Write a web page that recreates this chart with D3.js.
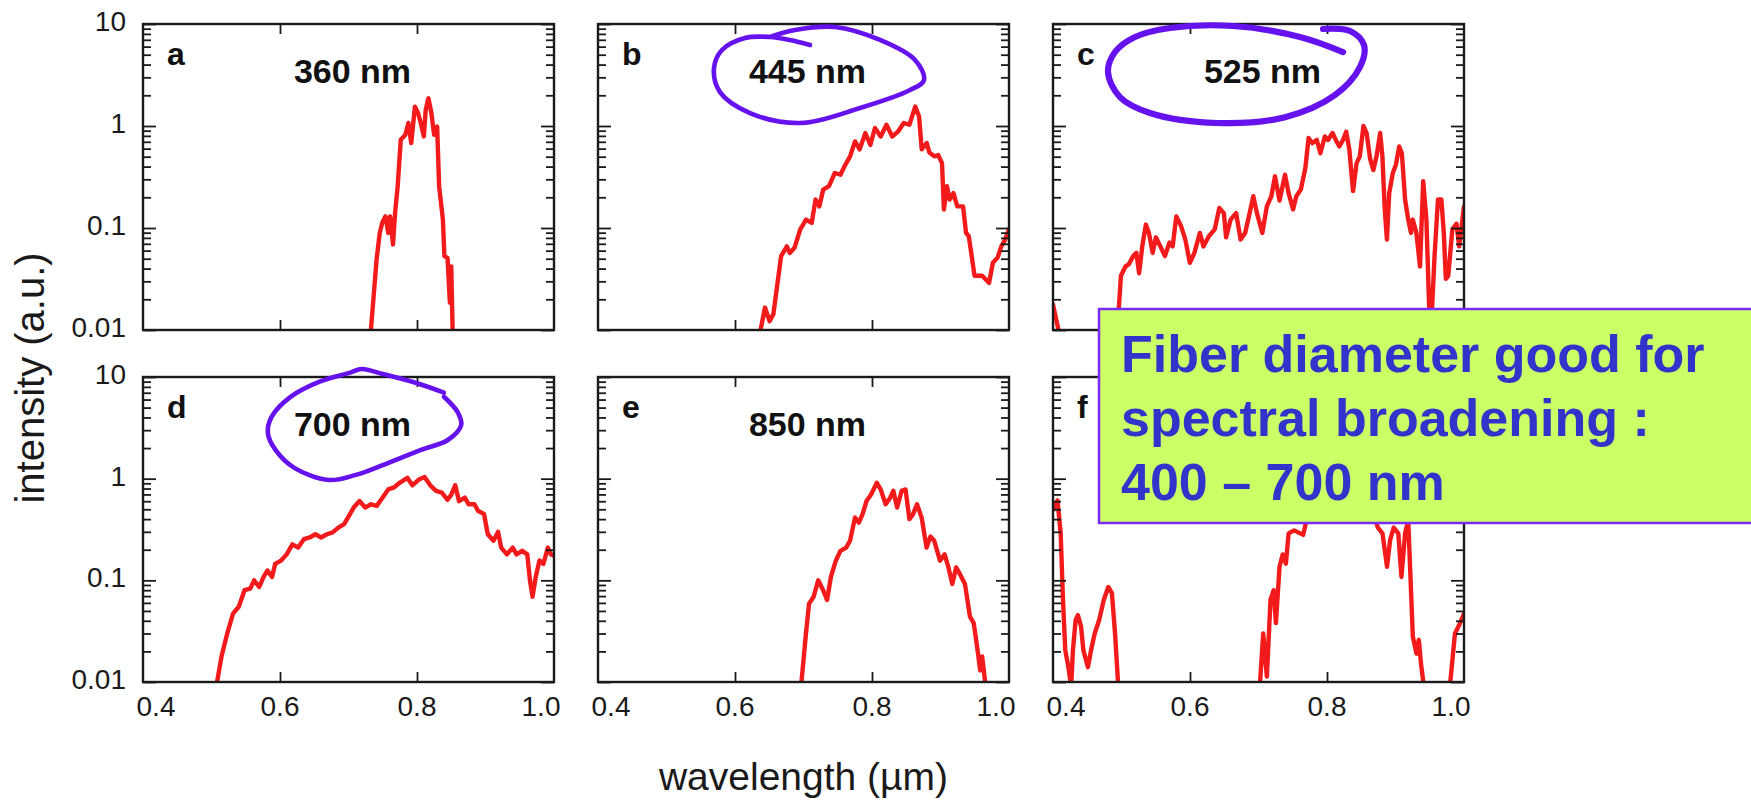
<!DOCTYPE html>
<html><head><meta charset="utf-8">
<script src="https://cdn.jsdelivr.net/npm/d3@7"></script>
<style>html,body{margin:0;padding:0;background:#fff;} svg{display:block;}</style>
</head><body>
<svg id="chart" width="1751" height="800"></svg>
<script>
// ---------- data ----------
const panelLetters = ["a","b","c","d","e","f"];
const pumpLabels = ["360 nm","445 nm","525 nm","700 nm","850 nm",""];
const xTickValues = [0.4, 0.6, 0.8, 1.0];
const xTickLabels = ["0.4","0.6","0.8","1.0"];
const yTickValues = [10, 1, 0.1, 0.01];
const yTickLabels = ["10","1","0.1","0.01"];
const xTitle = "wavelength (µm)";
const yTitle = "intensity (a.u.)";
const noteLines = ["Fiber diameter good for","spectral broadening :","400 – 700 nm"];

// [wavelength (µm), intensity (a.u.)]
const spectrumA = [[0.731,0.007],[0.7327,0.01],[0.741,0.049],[0.7456,0.0895],[0.7495,0.114],[0.754,0.130],[0.758,0.0895],[0.7607,0.130],[0.765,0.069],[0.768,0.141],[0.7718,0.257],[0.7763,0.733],[0.783,0.82],[0.7875,1.07],[0.7916,0.68],[0.797,1.55],[0.8015,1.34],[0.8055,1.07],[0.81,0.79],[0.8127,1.44],[0.8167,1.87],[0.821,1.34],[0.825,0.82],[0.8294,0.99],[0.8323,0.257],[0.8378,0.121],[0.84,0.053],[0.8446,0.051],[0.848,0.0185],[0.85,0.042],[0.852,0.01],[0.853,0.007]];
const spectrumB = [[0.634,0.007],[0.6365,0.0094],[0.6438,0.0166],[0.6505,0.0122],[0.656,0.0143],[0.6673,0.053],[0.6757,0.066],[0.680,0.057],[0.6869,0.064],[0.6953,0.097],[0.7037,0.121],[0.712,0.112],[0.7176,0.19],[0.7232,0.163],[0.7288,0.238],[0.7372,0.257],[0.7456,0.346],[0.754,0.333],[0.7596,0.40],[0.768,0.504],[0.7752,0.706],[0.782,0.59],[0.7903,0.853],[0.7976,0.653],[0.8043,0.955],[0.8127,0.79],[0.8211,1.03],[0.8295,0.79],[0.8379,0.88],[0.8463,1.07],[0.8547,1.03],[0.8631,1.55],[0.8687,1.24],[0.8726,0.59],[0.8799,0.68],[0.8837,0.55],[0.891,0.504],[0.8966,0.52],[0.9022,0.433],[0.905,0.152],[0.9094,0.257],[0.9133,0.19],[0.9189,0.22],[0.9245,0.163],[0.9329,0.163],[0.9373,0.0895],[0.9413,0.083],[0.9497,0.034],[0.9608,0.034],[0.9709,0.029],[0.9765,0.0456],[0.9832,0.051],[0.9888,0.066],[0.9944,0.077],[1.0,0.097]];
const spectrumC = [[0.4,0.0178],[0.408,0.01],[0.412,0.005],[0.49,0.005],[0.494,0.01],[0.4992,0.034],[0.5058,0.042],[0.5105,0.044],[0.5171,0.053],[0.5217,0.057],[0.5257,0.036],[0.5303,0.066],[0.5356,0.108],[0.540,0.0895],[0.5455,0.057],[0.5502,0.081],[0.5568,0.066],[0.5634,0.053],[0.57,0.072],[0.5747,0.066],[0.58,0.130],[0.5866,0.106],[0.5932,0.077],[0.5998,0.0456],[0.6064,0.057],[0.6144,0.0895],[0.6196,0.066],[0.6275,0.083],[0.6361,0.097],[0.6428,0.157],[0.6494,0.14],[0.6527,0.081],[0.6593,0.121],[0.6673,0.14],[0.6739,0.077],[0.6805,0.0895],[0.6871,0.14],[0.6924,0.205],[0.6977,0.14],[0.7056,0.0895],[0.7122,0.163],[0.7188,0.205],[0.7241,0.321],[0.7307,0.186],[0.7387,0.333],[0.7439,0.22],[0.7505,0.152],[0.7552,0.205],[0.7618,0.238],[0.7684,0.387],[0.7731,0.762],[0.7784,0.68],[0.785,0.73],[0.7903,0.54],[0.7969,0.79],[0.8015,0.73],[0.8081,0.853],[0.8128,0.73],[0.818,0.63],[0.8234,0.73],[0.828,0.88],[0.8326,0.59],[0.838,0.23],[0.8432,0.433],[0.8479,0.504],[0.8532,1.0],[0.8578,0.853],[0.8631,0.47],[0.8677,0.37],[0.8723,0.504],[0.8776,0.853],[0.8809,0.504],[0.8842,0.157],[0.8875,0.077],[0.8908,0.22],[0.8961,0.346],[0.9007,0.42],[0.9054,0.63],[0.9093,0.54],[0.914,0.19],[0.9186,0.121],[0.9226,0.0895],[0.9252,0.121],[0.9305,0.0895],[0.9358,0.042],[0.9404,0.287],[0.9451,0.121],[0.949,0.0178],[0.9517,0.0094],[0.957,0.053],[0.962,0.19],[0.967,0.19],[0.9705,0.0895],[0.9735,0.0317],[0.977,0.034],[0.983,0.097],[0.989,0.11],[0.993,0.066],[1.0,0.163]];
const spectrumD = [[0.505,0.007],[0.5079,0.0098],[0.5146,0.0178],[0.523,0.030],[0.5314,0.047],[0.5398,0.055],[0.5482,0.080],[0.5566,0.083],[0.5622,0.10],[0.5695,0.086],[0.5761,0.108],[0.5817,0.125],[0.5884,0.108],[0.5929,0.145],[0.6013,0.156],[0.6097,0.18],[0.6181,0.226],[0.6265,0.21],[0.6349,0.254],[0.6433,0.264],[0.6517,0.284],[0.66,0.264],[0.6685,0.284],[0.6768,0.296],[0.6852,0.33],[0.6936,0.357],[0.6992,0.414],[0.7076,0.52],[0.716,0.603],[0.7244,0.52],[0.7328,0.56],[0.7412,0.54],[0.7496,0.65],[0.758,0.784],[0.7663,0.82],[0.7747,0.91],[0.7859,1.02],[0.7932,0.86],[0.8027,0.98],[0.811,1.04],[0.8194,0.86],[0.8278,0.76],[0.8362,0.73],[0.8446,0.62],[0.8502,0.70],[0.8558,0.86],[0.8614,0.60],[0.8698,0.65],[0.8754,0.56],[0.8838,0.56],[0.8894,0.48],[0.8978,0.45],[0.9033,0.284],[0.9117,0.245],[0.9184,0.30],[0.9229,0.21],[0.9313,0.18],[0.9397,0.21],[0.9453,0.18],[0.9536,0.195],[0.961,0.18],[0.9649,0.0998],[0.9687,0.069],[0.9732,0.107],[0.9788,0.157],[0.9844,0.145],[0.9911,0.21],[0.9955,0.18],[1.0,0.175]];
const spectrumE = [[0.695,0.007],[0.6969,0.0098],[0.7036,0.030],[0.7081,0.059],[0.7148,0.069],[0.7215,0.10],[0.7287,0.080],[0.7344,0.064],[0.74,0.108],[0.7472,0.156],[0.7539,0.195],[0.7623,0.21],[0.7679,0.245],[0.7752,0.414],[0.7808,0.37],[0.7864,0.45],[0.792,0.603],[0.7987,0.70],[0.807,0.91],[0.8126,0.784],[0.8199,0.56],[0.8266,0.65],[0.8311,0.76],[0.8367,0.52],[0.8434,0.76],[0.849,0.784],[0.8546,0.40],[0.8601,0.45],[0.8657,0.56],[0.8725,0.414],[0.8797,0.21],[0.8853,0.27],[0.8909,0.245],[0.8993,0.156],[0.906,0.18],[0.9116,0.134],[0.9172,0.092],[0.9228,0.134],[0.9284,0.115],[0.9357,0.092],[0.943,0.044],[0.9485,0.038],[0.9541,0.0206],[0.958,0.013],[0.9608,0.0178],[0.9653,0.0098],[0.967,0.007]];
const spectrumF = [[0.4,0.49],[0.4066,0.61],[0.4112,0.29],[0.4146,0.064],[0.4179,0.0206],[0.4225,0.014],[0.4265,0.009],[0.4291,0.0206],[0.4331,0.041],[0.4364,0.0455],[0.441,0.035],[0.4443,0.0206],[0.451,0.014],[0.4556,0.0206],[0.4609,0.030],[0.4675,0.041],[0.4741,0.064],[0.4807,0.086],[0.486,0.075],[0.4906,0.030],[0.4953,0.009],[0.497,0.005],[0.70,0.005],[0.7023,0.01],[0.7069,0.030],[0.7122,0.0113],[0.7175,0.064],[0.7221,0.080],[0.7254,0.038],[0.7307,0.136],[0.7354,0.18],[0.74,0.146],[0.744,0.29],[0.752,0.31],[0.7653,0.28],[0.775,0.55],[0.79,0.8],[0.805,1.0],[0.825,0.7],[0.845,0.9],[0.862,0.6],[0.8743,0.33],[0.881,0.29],[0.8876,0.136],[0.8922,0.25],[0.8974,0.33],[0.9041,0.29],[0.9087,0.108],[0.914,0.29],[0.9186,0.39],[0.9253,0.028],[0.9306,0.019],[0.934,0.026],[0.9373,0.015],[0.9406,0.01],[0.942,0.005],[0.978,0.005],[0.98,0.01],[0.9868,0.030],[0.9935,0.037],[1.0,0.047]];

// hand-drawn rings (in data units of their panel)
const ringB = [[0.7095,6.22],[0.6803,6.97],[0.6511,7.46],[0.6146,7.29],[0.5810,5.56],[0.5693,3.70],[0.5781,2.15],[0.6219,1.34],[0.6949,1.07],[0.7825,1.50],[0.8555,2.25],[0.8759,2.82],[0.8628,4.44],[0.8117,6.97],[0.7460,9.34],[0.6876,8.73],[0.6511,7.46]];
const ringC = [[0.7942,8.93],[0.8336,8.53],[0.8540,6.22],[0.8482,3.79],[0.8117,2.01],[0.7387,1.22],[0.6394,1.07],[0.5416,1.34],[0.4978,1.92],[0.4803,3.38],[0.4905,5.31],[0.5197,7.46],[0.5708,9.14],[0.6628,9.56],[0.7606,7.46],[0.8234,5.31]];
const ringD = [[0.8393,7.01],[0.8002,8.67],[0.7499,10.7],[0.7191,11.99],[0.7025,11.03],[0.6578,8.99],[0.6159,6.40],[0.5879,4.07],[0.5823,2.80],[0.5934,1.92],[0.6215,1.27],[0.6717,0.97],[0.7108,1.09],[0.7499,1.36],[0.8059,1.92],[0.8450,2.40],[0.8645,3.37],[0.8589,4.56],[0.8393,6.40]];

// ---------- layout ----------
const spectra = [spectrumA, spectrumB, spectrumC, spectrumD, spectrumE, spectrumF];
const colLeft = [143, 598, 1053], panelW = 411;
const rowTop = [24, 377], panelH = [306, 305];
const font = "'Liberation Sans', Arial, Helvetica, sans-serif";
const ink = "#1a1a1a";
const svg = d3.select("#chart");
svg.append("rect").attr("width",1751).attr("height",800).attr("fill","#fff");

const scales = [];
spectra.forEach((data, i) => {
  const c = i % 3, r = Math.floor(i / 3);
  const x0 = colLeft[c], y0 = rowTop[r], h = panelH[r];
  const x = d3.scaleLinear().domain([0.4, 1.0]).range([x0, x0 + panelW]);
  const y = d3.scaleLog().domain([0.01, 10]).range([y0 + h, y0]);
  scales.push({x, y});
  const g = svg.append("g");
  const cid = "clip" + i;
  svg.append("clipPath").attr("id", cid).append("rect")
    .attr("x", x0).attr("y", y0).attr("width", panelW).attr("height", h);

  g.append("path").datum(data)
    .attr("clip-path", `url(#${cid})`)
    .attr("fill", "none").attr("stroke", "#f21a1a").attr("stroke-width", 4.4)
    .attr("stroke-linejoin", "round").attr("stroke-linecap", "round")
    .attr("d", d3.line().x(d => x(d[0])).y(d => y(d[1])));

  // ticks
  const minors = y.ticks().filter(v => !yTickValues.some(m => Math.abs(m - v) / m < 1e-6));
  const tickStyle = sel => { sel.select(".domain").remove(); sel.selectAll("line").attr("stroke", ink).attr("stroke-width", 1.8); };
  g.append("g").attr("transform", `translate(${x0},0)`)
    .call(d3.axisLeft(y).tickValues(minors).tickSize(-8).tickFormat("")).call(tickStyle);
  g.append("g").attr("transform", `translate(${x0},0)`)
    .call(d3.axisLeft(y).tickValues(yTickValues).tickSize(-13).tickFormat("")).call(tickStyle);
  g.append("g").attr("transform", `translate(${x0 + panelW},0)`)
    .call(d3.axisRight(y).tickValues(minors).tickSize(-8).tickFormat("")).call(tickStyle);
  g.append("g").attr("transform", `translate(${x0 + panelW},0)`)
    .call(d3.axisRight(y).tickValues(yTickValues).tickSize(-13).tickFormat("")).call(tickStyle);
  const inner = xTickValues.slice(1, -1);
  g.append("g").attr("transform", `translate(0,${y0 + h})`)
    .call(d3.axisBottom(x).tickValues(inner).tickSize(-10).tickFormat("")).call(tickStyle);
  g.append("g").attr("transform", `translate(0,${y0})`)
    .call(d3.axisTop(x).tickValues(inner).tickSize(-10).tickFormat("")).call(tickStyle);

  // frame
  g.append("rect").attr("x", x0).attr("y", y0).attr("width", panelW).attr("height", h)
    .attr("fill", "none").attr("stroke", ink).attr("stroke-width", 2.4);

  // tick labels
  if (r === 1) {
    g.selectAll(".xl").data(xTickValues).enter().append("text")
      .attr("x", (d, k) => x(d) + (k === 0 ? 13 : k === xTickValues.length - 1 ? -13 : 0))
      .attr("y", y0 + h + 34)
      .attr("text-anchor", "middle").attr("font-family", font).attr("font-size", 28).attr("fill", ink)
      .text((d, k) => xTickLabels[k]);
  }
  if (c === 0) {
    g.selectAll(".yl").data(yTickValues).enter().append("text")
      .attr("x", x0 - 17).attr("y", d => y(d) + 7)
      .attr("text-anchor", "end").attr("font-family", font).attr("font-size", 28).attr("fill", ink)
      .text((d, k) => yTickLabels[k]);
  }
  // panel letter + pump label
  g.append("text").attr("x", x0 + 24).attr("y", y0 + 41)
    .attr("font-family", font).attr("font-weight", "bold").attr("font-size", 32).attr("fill", "#111")
    .text(panelLetters[i]);
  g.append("text").attr("x", x0 + panelW / 2 + 4).attr("y", y0 + 59)
    .attr("text-anchor", "middle").attr("font-family", font).attr("font-weight", "bold").attr("font-size", 34).attr("fill", "#111")
    .text(pumpLabels[i]);
});

// axis titles
svg.append("text").attr("transform", "translate(44,378) rotate(-90)")
  .attr("text-anchor", "middle").attr("font-family", font).attr("font-size", 40).attr("fill", ink).text(yTitle);
svg.append("text").attr("x", colLeft[1] + panelW / 2).attr("y", 790)
  .attr("text-anchor", "middle").attr("font-family", font).attr("font-size", 39).attr("fill", ink).text(xTitle);

// hand-drawn rings
const rings = [{panel: 1, pts: ringB, w: 4.6}, {panel: 2, pts: ringC, w: 6.2}, {panel: 3, pts: ringD, w: 4.6}];
rings.forEach(rg => {
  const s = scales[rg.panel];
  svg.append("path").datum(rg.pts)
    .attr("fill", "none").attr("stroke", "#6612ee").attr("stroke-width", rg.w)
    .attr("stroke-linecap", "round").attr("stroke-linejoin", "round")
    .attr("d", d3.line().curve(d3.curveCatmullRom.alpha(0.5)).x(d => s.x(d[0])).y(d => s.y(d[1])));
});

// note box
const note = svg.append("g");
note.append("rect").attr("x", 1099).attr("y", 309).attr("width", 700).attr("height", 214)
  .attr("fill", "#ccff66").attr("stroke", "#7a2cff").attr("stroke-width", 2.5);
note.selectAll("text").data(noteLines).enter().append("text")
  .attr("x", 1121).attr("y", (d, k) => 372 + k * 64)
  .attr("font-family", font).attr("font-weight", "bold").attr("font-size", 52).attr("fill", "#3333cc")
  .text(d => d);
</script>
</body></html>
